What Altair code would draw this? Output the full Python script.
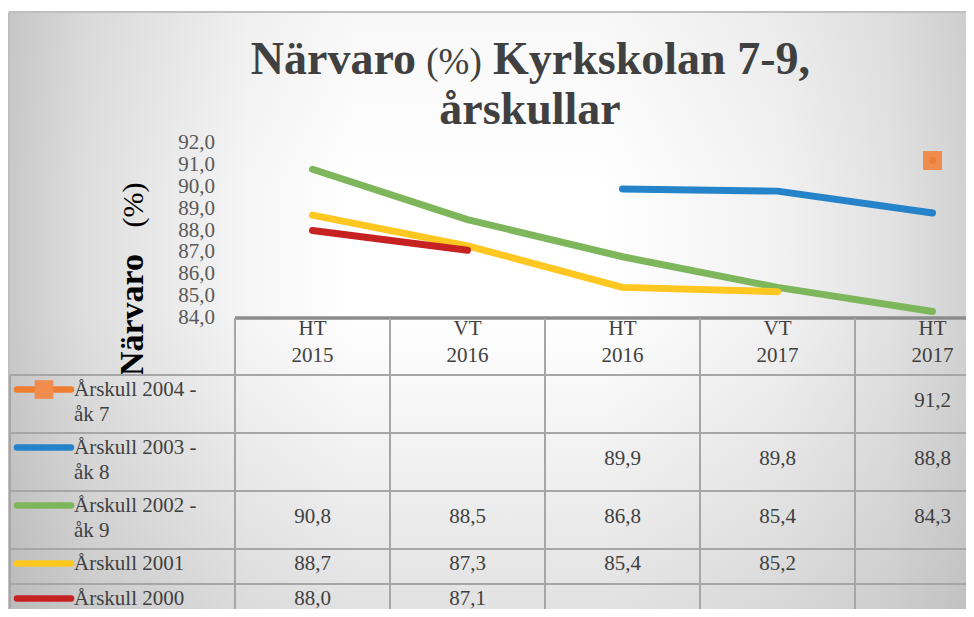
import altair as alt
import pandas as pd

# ---------------- data ----------------
periods = ["HT 2015", "VT 2016", "HT 2016", "VT 2017", "HT 2017"]
series_names = ["Årskull 2004 -\nåk 7", "Årskull 2003 -\nåk 8", "Årskull 2002 -\nåk 9",
                "Årskull 2001", "Årskull 2000"]
series_colors = ["#ED7D31", "#2583C9", "#7DB65B", "#FFC720", "#C62222"]
values_2004 = [None, None, None, None, 91.2]
values_2003 = [None, None, 89.9, 89.8, 88.8]
values_2002 = [90.8, 88.5, 86.8, 85.4, 84.3]
values_2001 = [88.7, 87.3, 85.4, 85.2, None]
values_2000 = [88.0, 87.1, None, None, None]
y_ticks = [84, 85, 86, 87, 88, 89, 90, 91, 92]
title_parts = ["Närvaro", "(%)", "Kyrkskolan 7-9,"]
title_line2 = "årskullar"
axis_title_parts = ["Närvaro", "(%)"]

all_values = [values_2004, values_2003, values_2002, values_2001, values_2000]

# ---------------- layout ----------------
W, H = 958, 601
STEP = 155
PLOT_X0 = 227
PLOT_TOP, PLOT_BOTTOM = 135, 310
TABLE_H = 420
HEADER_H = 57
LEG_X = 2
FONT = "Liberation Serif"
TXT = "#404040"
GRID = "#A6A6A6"

long_rows = []
for s, vals in zip(series_names, all_values):
    for p, v in zip(periods, vals):
        if v is not None:
            long_rows.append({"series": s, "period": p, "value": v,
                              "text": f"{v:.1f}".replace(".", ",")})
lines_df = pd.DataFrame(long_rows)

rows = []
top = HEADER_H
for s in series_names:
    n = s.count("\n") + 1
    h = 12 + 23 * n
    rows.append({"series": s, "top": top, "bottom": top + h, "mid": top + h / 2,
                 "sym": top + 14.5, "lab": top + 2})
    top += h
rows_df = pd.DataFrame(rows)
cells_df = lines_df.merge(rows_df, on="series")
ticks_df = pd.DataFrame({"value": y_ticks,
                         "label": [f"{t:.1f}".replace(".", ",") for t in y_ticks]})

x_scale = alt.Scale(type="band", domain=periods, range=[PLOT_X0, PLOT_X0 + STEP * len(periods)],
                    paddingInner=0, paddingOuter=0)
y_scale = alt.Scale(domain=[84, 92], range=[PLOT_BOTTOM, PLOT_TOP], nice=False, zero=False)
t_scale = alt.Scale(domain=[0, TABLE_H], range=[PLOT_BOTTOM, PLOT_BOTTOM + TABLE_H], nice=False, zero=False)
c_scale = alt.Scale(domain=series_names, range=series_colors)

one = pd.DataFrame({"a": [0]})

def X(bp):
    return alt.X("period:N", scale=x_scale, axis=None, bandPosition=bp)

def TY(field):
    return alt.Y(field, scale=t_scale, axis=None)

# background
bg_h = alt.Chart(one).mark_rect(fill=alt.LinearGradient(
    gradient="linear", x1=0, x2=1, y1=0, y2=0,
    stops=[alt.GradientStop(color="#c9c9c9", offset=0),
           alt.GradientStop(color="#dedede", offset=0.08),
           alt.GradientStop(color="#f6f6f6", offset=0.25),
           alt.GradientStop(color="#ffffff", offset=0.36),
           alt.GradientStop(color="#ffffff", offset=0.62),
           alt.GradientStop(color="#f2f2f2", offset=0.8),
           alt.GradientStop(color="#e2e2e2", offset=0.92),
           alt.GradientStop(color="#d2d2d2", offset=1)])).encode(
    x=alt.value(1), x2=alt.value(W), y=alt.value(4), y2=alt.value(H))
bg_v = alt.Chart(one).mark_rect(fill=alt.LinearGradient(
    gradient="linear", x1=0, x2=0, y1=0, y2=1,
    stops=[alt.GradientStop(color="rgba(160,160,160,0.08)", offset=0),
           alt.GradientStop(color="rgba(160,160,160,0)", offset=0.3),
           alt.GradientStop(color="rgba(160,160,160,0)", offset=0.5),
           alt.GradientStop(color="rgba(150,150,150,0.28)", offset=1)])).encode(
    x=alt.value(1), x2=alt.value(W), y=alt.value(4), y2=alt.value(H))
border_top = alt.Chart(one).mark_rule(color="#BFBFBF", strokeWidth=2).encode(
    x=alt.value(1), x2=alt.value(W), y=alt.value(4))
border_left = alt.Chart(one).mark_rule(color="#BFBFBF", strokeWidth=2).encode(
    x=alt.value(1), y=alt.value(4), y2=alt.value(H))

# titles
t1 = alt.Chart(one).mark_text(text=title_parts[0], font=FONT, fontSize=46, fontWeight="bold",
                              color=TXT, align="right", baseline="alphabetic").encode(
    x=alt.value(408), y=alt.value(66))
t2 = alt.Chart(one).mark_text(text=title_parts[1], font=FONT, fontSize=37, fontWeight="normal",
                              color=TXT, align="center", baseline="alphabetic").encode(
    x=alt.value(446), y=alt.value(66))
t3 = alt.Chart(one).mark_text(text=title_parts[2], font=FONT, fontSize=46, fontWeight="bold",
                              color=TXT, align="left", baseline="alphabetic").encode(
    x=alt.value(485), y=alt.value(66))
t4 = alt.Chart(one).mark_text(text=title_line2, font=FONT, fontSize=46, fontWeight="bold",
                              color=TXT, align="center", baseline="alphabetic").encode(
    x=alt.value(522), y=alt.value(116))
a1 = alt.Chart(one).mark_text(text=axis_title_parts[0], font=FONT, fontSize=34, fontWeight="bold",
                              color="#000000", align="center", baseline="alphabetic", angle=270).encode(
    x=alt.value(135), y=alt.value(307))
a2 = alt.Chart(one).mark_text(text=axis_title_parts[1], font=FONT, fontSize=30, fontWeight="normal",
                              color="#000000", align="center", baseline="alphabetic", angle=270).encode(
    x=alt.value(135), y=alt.value(197))

# y tick labels
ylabels = alt.Chart(ticks_df).mark_text(font=FONT, fontSize=21, color="#595959", align="right",
                                        baseline="middle").encode(
    x=alt.value(207), y=alt.Y("value:Q", scale=y_scale, axis=None), text="label:N")

# table grid
hl_df = pd.DataFrame({"y": [HEADER_H] + list(rows_df["bottom"])})
hlines = alt.Chart(hl_df).mark_rule(color=GRID, strokeWidth=2).encode(
    x=alt.value(LEG_X), x2=alt.value(W), y=TY("y:Q"))
top_df = pd.DataFrame({"period": [periods[0]], "y": [0]})
top_line = alt.Chart(top_df).mark_rule(color="#8C8C8C", strokeWidth=3.5).encode(
    x=X(0), x2=alt.value(W), y=TY("y:Q"))
vl_df = pd.DataFrame({"period": periods, "y0": [0] * len(periods), "y1": [TABLE_H] * len(periods)})
vlines = alt.Chart(vl_df).mark_rule(color=GRID, strokeWidth=2).encode(
    x=X(0), y=TY("y0:Q"), y2="y1:Q")
lb_df = pd.DataFrame({"y0": [HEADER_H], "y1": [TABLE_H]})
leg_border = alt.Chart(lb_df).mark_rule(color=GRID, strokeWidth=2).encode(
    x=alt.value(LEG_X), y=TY("y0:Q"), y2="y1:Q")

# header
hd_df = pd.DataFrame({"period": periods, "label": [p.replace(" ", "\n") for p in periods],
                      "y": [-3.5] * len(periods)})
header = alt.Chart(hd_df).mark_text(font=FONT, fontSize=21, color=TXT, align="center",
                                    baseline="line-top", lineBreak="\n", lineHeight=27).encode(
    x=X(0.5), y=TY("y:Q"), text="label:N")

# legend column
leg_sym = alt.Chart(rows_df).mark_rule(strokeWidth=6.5, strokeCap="round").encode(
    x=alt.value(9), x2=alt.value(63), y=TY("sym:Q"),
    color=alt.Color("series:N", scale=c_scale, legend=None))
leg_sq = alt.Chart(rows_df.iloc[:1]).mark_point(shape="square", size=350, filled=True,
                                                 opacity=1, fill="#EF8C4E", strokeWidth=0).encode(
    x=alt.value(36), y=TY("sym:Q"))
leg_lab = alt.Chart(rows_df).mark_text(font=FONT, fontSize=21, color=TXT, align="left",
                                       baseline="line-top", lineBreak="\n", lineHeight=25).encode(
    x=alt.value(66), y=TY("lab:Q"), text="series:N")

# cell values
cells = alt.Chart(cells_df).mark_text(font=FONT, fontSize=21, color=TXT, align="center",
                                      baseline="middle", dy=-3).encode(
    x=X(0.5), y=TY("mid:Q"), text="text:N")

# plot
pt = alt.Chart(lines_df[lines_df["series"] == series_names[0]]).mark_point(
    shape="square", size=361, filled=True, opacity=1, fill="#EF8C4E", strokeWidth=0).encode(
    x=X(0.5), y=alt.Y("value:Q", scale=y_scale, axis=None))
lines = alt.Chart(lines_df).mark_line(strokeWidth=7, strokeCap="round", strokeJoin="round").encode(
    x=X(0.5),
    y=alt.Y("value:Q", scale=y_scale, axis=None),
    color=alt.Color("series:N", scale=c_scale, legend=None),
    detail="series:N")

chart = alt.layer(
    bg_h, bg_v, border_top, border_left, t1, t2, t3, t4, a1, a2, ylabels,
    hlines, top_line, vlines, leg_border, header, leg_sym, leg_sq, leg_lab, cells,
    pt, lines
).resolve_scale(y="independent").properties(
    width=W, height=H, padding=0, autosize=alt.AutoSizeParams(type="none"),
    background="white"
).configure_view(stroke=None)

chart.save("out.html", embed_options={"renderer": "svg", "actions": False})
